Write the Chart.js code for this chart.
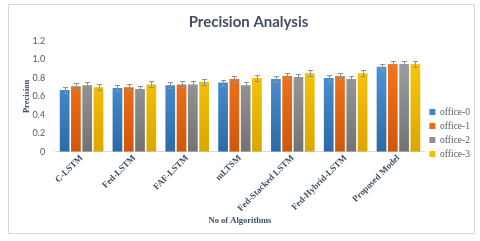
<!DOCTYPE html>
<html>
<head>
<meta charset="utf-8">
<script src="https://cdn.jsdelivr.net/npm/chart.js@4"></script>
<style>
  html, body { margin: 0; padding: 0; background: #fff; }
  #box { position: absolute; left: 8px; top: 4px; width: 467px; height: 230px; border: 1px solid #d9d9d9; box-sizing: border-box; }
  #wrap { position: absolute; left: 0; top: 0; width: 465px; height: 228px; }
</style>
</head>
<body>
<div id="box"><div id="wrap"><canvas id="myChart"></canvas></div></div>
<script>
const algorithms = ["C-LSTM", "Fed-LSTM", "FAF-LSTM", "mLTSM", "Fed-Stacked LSTM", "Fed-Hybrid-LSTM", "Proposed Model"];
const office0 = [0.67, 0.69, 0.72, 0.75, 0.79, 0.80, 0.92];
const office1 = [0.71, 0.70, 0.73, 0.79, 0.82, 0.82, 0.95];
const office2 = [0.72, 0.68, 0.73, 0.72, 0.81, 0.79, 0.95];
const office3 = [0.70, 0.73, 0.76, 0.80, 0.85, 0.85, 0.95];
const errorSize = 0.033;
const yTicks = [0, 0.2, 0.4, 0.6, 0.8, 1, 1.2];

function gradient(top, bottom) {
    return function (ctx) {
        const area = ctx.chart.chartArea;
        if (!area) return top;
        const g = ctx.chart.ctx.createLinearGradient(0, area.top, 0, area.bottom);
        g.addColorStop(0, top);
        g.addColorStop(1, bottom);
        return g;
    };
}

const errorBars = {
    id: "errorBars",
    afterDatasetsDraw(chart) {
        const c = chart.ctx;
        const y = chart.scales.y;
        c.save();
        c.strokeStyle = "#8593a3";
        c.lineWidth = 1;
        chart.data.datasets.forEach((ds, i) => {
            chart.getDatasetMeta(i).data.forEach((bar, j) => {
                const v = ds.data[j];
                const x = Math.round(bar.x) + 0.5;
                const y1 = Math.round(y.getPixelForValue(v + errorSize)) + 0.5;
                const y2 = Math.round(y.getPixelForValue(v - errorSize)) + 0.5;
                c.beginPath();
                c.moveTo(x, y1); c.lineTo(x, y2);
                c.moveTo(x - 2.5, y1); c.lineTo(x + 2.5, y1);
                c.moveTo(x - 2.5, y2); c.lineTo(x + 2.5, y2);
                c.stroke();
            });
        });
        c.restore();
    }
};

const serif = "'Liberation Serif', 'Times New Roman', serif";
const titleColor = "#404f62";

new Chart(document.getElementById("myChart").getContext("2d"), {
    type: "bar",
    data: {
        labels: algorithms,
        datasets: [
            { label: "office-0", data: office0, backgroundColor: gradient("#559fe2", "#2c6aa6"), legendColor: "#3d85c9" },
            { label: "office-1", data: office1, backgroundColor: gradient("#ff7d22", "#cf560c"), legendColor: "#f06a15" },
            { label: "office-2", data: office2, backgroundColor: gradient("#a8a8a8", "#727272"), legendColor: "#8f8f8f" },
            { label: "office-3", data: office3, backgroundColor: gradient("#ffcd0a", "#dca600"), legendColor: "#f7be00" }
        ]
    },
    options: {
        responsive: true,
        maintainAspectRatio: false,
        animation: false,
        categoryPercentage: 0.855,
        barPercentage: 0.86,
        layout: { padding: { left: 8, right: -6, top: 0, bottom: 7 } },
        plugins: {
            title: {
                display: true,
                text: "Precision Analysis",
                color: titleColor,
                font: { family: "Lato, 'Open Sans', sans-serif", size: 15, weight: "bold" },
                padding: { top: 8, bottom: 10 }
            },
            legend: {
                position: "right",
                title: { display: true, text: " ", padding: { top: 28, bottom: 0 }, font: { size: 6 } },
                labels: {
                    boxWidth: 6,
                    boxHeight: 6,
                    padding: 4.5,
                    color: "#595959",
                    font: { family: serif, size: 9.5 },
                    generateLabels(chart) {
                        return chart.data.datasets.map((ds, i) => ({
                            text: ds.label,
                            fillStyle: ds.legendColor,
                            strokeStyle: ds.legendColor,
                            lineWidth: 0,
                            fontColor: "#595959",
                            datasetIndex: i
                        }));
                    }
                }
            },
            tooltip: { enabled: false }
        },
        scales: {
            x: {
                grid: { display: false, drawTicks: false },
                border: { color: "#d9d9d9" },
                afterFit(scale) { scale.paddingLeft = 0; },
                ticks: {
                    maxRotation: 45,
                    minRotation: 45,
                    color: titleColor,
                    padding: 1.5,
                    font: { family: serif, size: 9, weight: "bold", lineHeight: 1 }
                },
                title: {
                    display: true,
                    text: "No of Algorithms",
                    color: titleColor,
                    padding: { top: 1, bottom: 0 },
                    font: { family: serif, size: 8.5, weight: "bold" }
                }
            },
            y: {
                min: 0,
                max: 1.2,
                afterBuildTicks(axis) { axis.ticks = yTicks.map(v => ({ value: v })); },
                grid: { display: false, drawTicks: false },
                border: { display: false },
                ticks: {
                    color: "#595959",
                    padding: 10,
                    font: { family: "Lato, 'Open Sans', sans-serif", size: 9 }
                },
                title: {
                    display: true,
                    text: "Precision",
                    color: titleColor,
                    padding: { top: 4.4, bottom: -9 },
                    font: { family: serif, size: 8.5, weight: "bold" }
                }
            }
        }
    },
    plugins: [errorBars]
});
</script>
</body>
</html>
